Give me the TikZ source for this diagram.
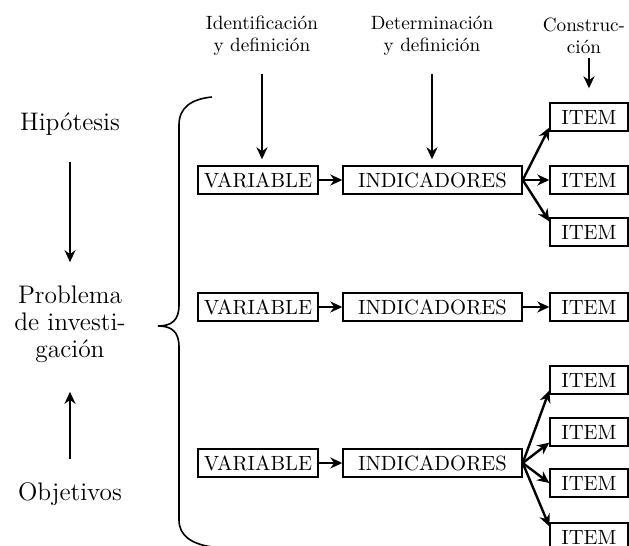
\documentclass[tikz,border=0pt]{standalone}
\usepackage{amsmath, amssymb, fontspec, tikz}
\usetikzlibrary{arrows.meta}

\tikzset{
  box/.style={draw, line width=0.7pt, inner sep=0pt, minimum height=14pt, font=\fontsize{10.3}{12}\selectfont},
  toplabel/.style={align=center, inner sep=0pt, font=\fontsize{9.6}{11}\selectfont},
  sidelabel/.style={align=center, inner sep=0pt, font=\fontsize{12.7}{13.5}\selectfont},
  link/.style={-{Stealth[length=6pt,width=5.5pt]}, line width=1.2pt},
}

\begin{document}
\begin{tikzpicture}[x=0.5pt,y=-0.5pt]
        \useasboundingbox (0,0) rectangle (629,546);
        % column headings
        \node[toplabel] (ident) at (262,36) {Identificación\\y definición};
        \node[toplabel] (deter) at (432,36) {Determinación\\y definición};
        \node[toplabel] (constr) at (584,36) {Construc-\\ción};
        % left column
        \node[sidelabel] (hip) at (70,124) {Hipótesis};
        \node[sidelabel] (prob) at (70,324) {Problema\\de investi-\\gación};
        \node[sidelabel] (obj) at (70,494) {Objetivos};
        \draw[link, line width=1pt, shorten <=13pt, shorten >=11.5pt] (hip) -- (prob);
        \draw[link, line width=1pt, shorten <=11.5pt, shorten >=14.5pt] (obj) -- (prob);
        % brace
        \draw[line width=0.8pt] (212,97) .. controls (192,99) and (179,107) .. (179,125) -- (179,305)
            .. controls (179,320) and (172,326) .. (158,326) .. controls (172,326) and (179,332) .. (179,347)
            -- (179,520) .. controls (179,536) and (192,544) .. (212,547);
        % first row
        \node[box, minimum width=60pt] (var1) at (258,180) {VARIABLE};
        \node[box, minimum width=89.5pt] (ind1) at (432.5,180) {INDICADORES};
        \node[box, minimum width=39pt] (it11) at (589,117) {ITEM};
        \node[box, minimum width=39pt] (it12) at (589,180) {ITEM};
        \node[box, minimum width=39pt] (it13) at (589,232) {ITEM};
        \draw[link] (var1) -- (ind1);
        \draw[link] (ind1.east) -- (it11.195);
        \draw[link] (ind1.east) -- (it12.west);
        \draw[link] (ind1.east) -- (it13.165);
        % second row
        \node[box, minimum width=60pt] (var2) at (258,307) {VARIABLE};
        \node[box, minimum width=89.5pt] (ind2) at (432.5,307) {INDICADORES};
        \node[box, minimum width=39pt] (it21) at (589,307) {ITEM};
        \draw[link] (var2) -- (ind2);
        \draw[link] (ind2) -- (it21);
        % third row
        \node[box, minimum width=60pt] (var3) at (258,463) {VARIABLE};
        \node[box, minimum width=89.5pt] (ind3) at (432.5,463) {INDICADORES};
        \node[box, minimum width=39pt] (it31) at (589,380) {ITEM};
        \node[box, minimum width=39pt] (it32) at (589,432) {ITEM};
        \node[box, minimum width=39pt] (it33) at (589,483) {ITEM};
        \node[box, minimum width=39pt] (it34) at (589,537) {ITEM};
        \draw[link] (var3) -- (ind3);
        \draw[link] (ind3.east) -- (it31.195);
        \draw[link] (ind3.east) -- (it32.195);
        \draw[link] (ind3.east) -- (it33.west);
        \draw[link] (ind3.east) -- (it34.165);
        % arrows from the headings
        \draw[link, shorten <=9pt, shorten >=3pt] (ident.south) -- (ident.south |- var1.north);
        \draw[link, shorten <=9pt, shorten >=3pt] (deter.south) -- (deter.south |- ind1.north);
        \draw[link, shorten <=2pt, shorten >=7pt] (it11.north |- constr.south) -- (it11.north);
\end{tikzpicture}
\end{document}
